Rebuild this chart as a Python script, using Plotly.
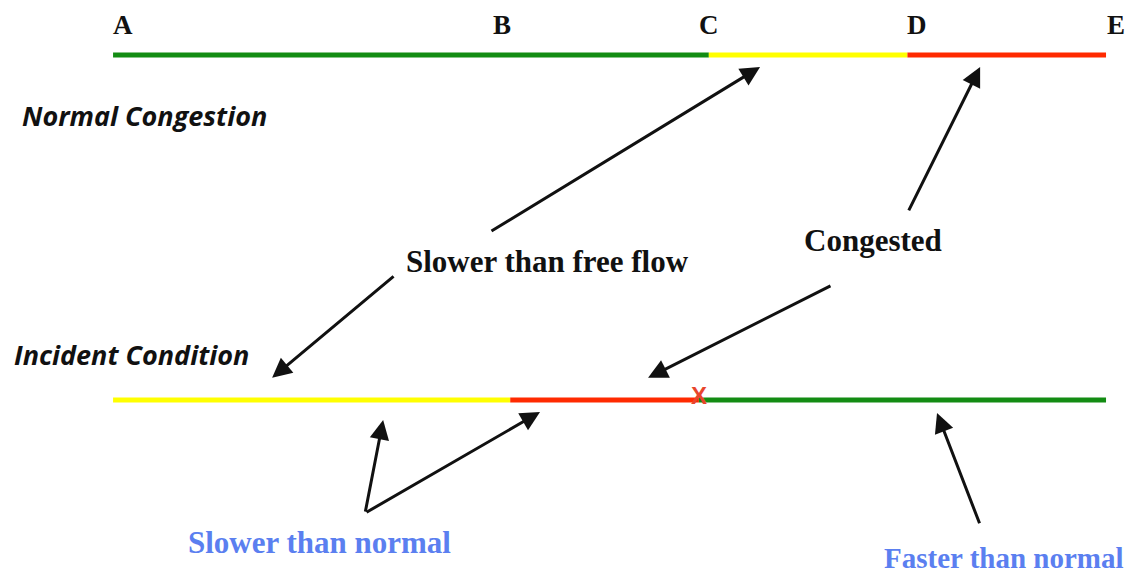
import plotly.graph_objects as go

# stations along the road (segment units)
stations = ["A", "B", "C", "D", "E"]
station_pos = [0, 2, 3, 4, 5]

# normal congestion: colour runs between breakpoints
normal_breaks = [0, 3, 4, 5]
normal_colors = ["green", "yellow", "red"]

# incident condition
incident_breaks = [0, 2, 2.95, 5]
incident_colors = ["yellow", "red", "green"]
incident_pos = 2.95

palette = {"green": "#138c13", "yellow": "#ffff00", "red": "#ff2a00"}
row_y = {"normal": 1, "incident": 0}

fig = go.Figure()

def add_row(breaks, colors, y):
    for i in range(len(colors)):
        fig.add_trace(go.Scatter(
            x=[breaks[i], breaks[i + 1]], y=[y, y], mode="lines",
            line=dict(color=palette[colors[i]], width=5),
            showlegend=False, hoverinfo="skip"))

add_row(normal_breaks, normal_colors, row_y["normal"])
add_row(incident_breaks, incident_colors, row_y["incident"])

serif = "Liberation Serif"
shifts = {"A": 10, "B": -8, "C": 0, "D": 10, "E": 10}
for s, p in zip(stations, station_pos):
    fig.add_annotation(x=p, y=1.087, text="<b>" + s + "</b>", showarrow=False,
                       xshift=shifts[s], borderpad=0,
                       font=dict(family=serif, size=27, color="#111"))

# incident marker
fig.add_annotation(x=incident_pos, y=0.012, text="<b>X</b>", showarrow=False,
                   font=dict(family="Liberation Sans", size=24, color="#e8452c"))

# row captions
fig.add_annotation(x=-0.468, y=0.823, text="<b><i>Normal Congestion</i></b>", showarrow=False,
                   xanchor="left", font=dict(family="Open Sans", size=27, color="#111"))
fig.add_annotation(x=-0.509, y=0.133, text="<b><i>Incident Condition</i></b>", showarrow=False,
                   xanchor="left", font=dict(family="Open Sans", size=27, color="#111"))

# callout text
fig.add_annotation(x=2.19, y=0.40, text="<b>Slower than free flow</b>", showarrow=False,
                   font=dict(family=serif, size=31, color="#111"))
fig.add_annotation(x=3.827, y=0.461, text="<b>Congested</b>", showarrow=False,
                   font=dict(family=serif, size=31, color="#111"))
fig.add_annotation(x=1.042, y=-0.414, text="<b>Slower than normal</b>", showarrow=False,
                   font=dict(family=serif, size=31, color="#5b7ff0"))
fig.add_annotation(x=4.486, y=-0.458, text="<b>Faster than normal</b>", showarrow=False,
                   borderpad=0, font=dict(family=serif, size=29, color="#5b7ff0"))

# arrows: (head_x, head_y, tail_x, tail_y)
arrows = [
    (3.258, 0.965, 1.898, 0.487),
    (0.801, 0.064, 1.420, 0.362),
    (4.366, 0.965, 4.003, 0.545),
    (2.694, 0.064, 3.620, 0.333),
    (1.360, -0.058, 1.269, -0.328),
    (2.150, -0.035, 1.269, -0.328),
    (4.149, -0.038, 4.366, -0.362),
]
for hx, hy, tx, ty in arrows:
    fig.add_annotation(x=hx, y=hy, ax=tx, ay=ty, xref="x", yref="y", axref="x", ayref="y",
                       text="", showarrow=True, arrowhead=2, arrowsize=1.3, arrowwidth=3,
                       arrowcolor="#111")

# page body has an 8px margin, so the plot area starts at (8, 8)
fig.update_xaxes(range=[-0.529, 5.161], visible=False)
fig.update_yaxes(range=[-0.519, 1.136], visible=False)
fig.update_layout(width=1130, height=571, autosize=False,
                  margin=dict(l=0, r=0, t=0, b=0),
                  plot_bgcolor="white", paper_bgcolor="white")

fig.write_html("out.html")
